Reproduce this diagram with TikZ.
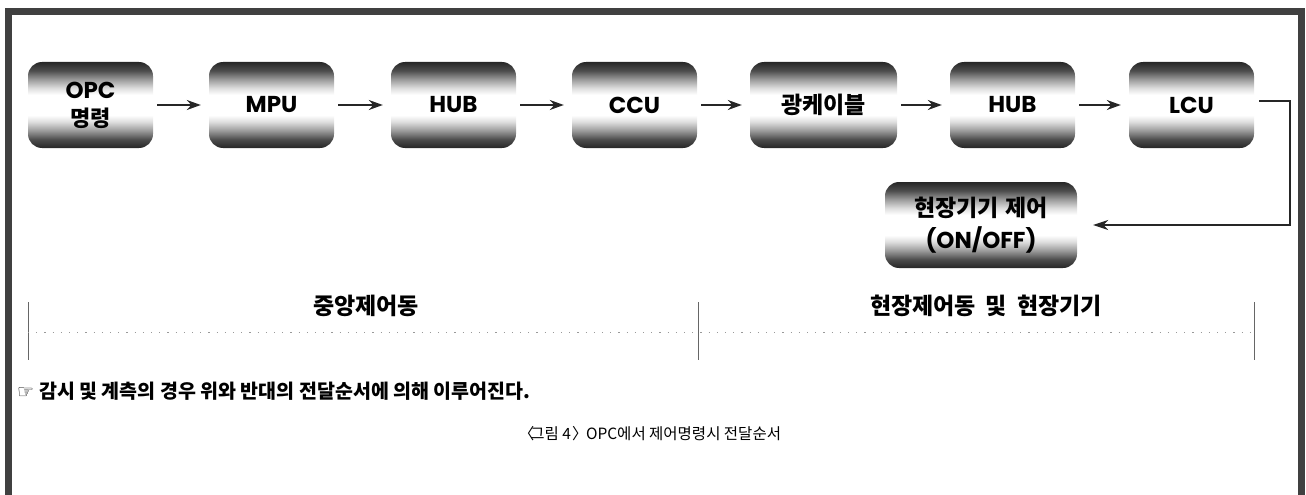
\documentclass[tikz,border=0pt]{standalone}
\usepackage{fontspec}
\newfontfamily\gothic{Poppins}
\newfontfamily\kr{Noto Sans CJK KR}
\newfontfamily\sym{DejaVu Sans}
\usetikzlibrary{arrows.meta}
\pgfdeclareverticalshading{boxshade}{100bp}{color(0bp)=(black!85); color(25bp)=(black!85); color(30bp)=(black!70); color(35bp)=(black!40); color(40bp)=(black!14); color(44bp)=(white); color(56bp)=(white); color(60bp)=(black!14); color(65bp)=(black!40); color(70bp)=(black!70); color(75bp)=(black!85); color(100bp)=(black!85)}
\begin{document}
\begin{tikzpicture}[x=1pt,y=-1pt,
  blk/.style={rounded corners=14pt, minimum height=86pt, minimum width=125pt,
    shade, shading=boxshade, inner sep=0pt, align=center,
    font=\gothic\bfseries\fontsize{23}{23}\selectfont},
  krb/.style={font=\kr\bfseries\fontsize{23}{23}\selectfont},
  arr/.style={line width=1.4pt, black!85, -{Stealth[length=14pt,width=10pt]},
    shorten <=4pt, shorten >=8pt},
  frame/.style={line width=7pt, black!75},
  tick/.style={line width=0.8pt, black!60},
  dots/.style={line width=0.8pt, black!40, dash pattern=on 1.2pt off 7pt}]
\useasboundingbox (0,0) rectangle (1306,495);
% frame
\draw[frame] (8.5,495) -- (8.5,11.5) -- (1301.5,11.5) -- (1301.5,495);
% boxes
\node[blk] (opc) at (90.5,105) {OPC\\[5pt]{\kr\bfseries\fontsize{22}{22}\selectfont 명령}};
\node[blk] (mpu) at (271.5,105) {MPU};
\node[blk] (hub1) at (453.5,105) {HUB};
\node[blk] (ccu) at (634.5,105) {CCU};
\node[blk, minimum width=147pt] (cable) at (823.5,105) {{\kr\bfseries\fontsize{23}{23}\selectfont 광케이블}};
\node[blk] (hub2) at (1012.5,105) {HUB};
\node[blk] (lcu) at (1191.5,105) {LCU};
\node[blk, minimum width=192pt] (field) at (981,225) {{\kr\bfseries\fontsize{23}{23}\selectfont 현장기기\hspace{7pt}제어}\\[7pt](ON/OFF)};
% arrows
\draw[arr] (opc) -- (mpu);
\draw[arr] (mpu) -- (hub1);
\draw[arr] (hub1) -- (ccu);
\draw[arr] (ccu) -- (cable);
\draw[arr] (cable) -- (hub2);
\draw[arr] (hub2) -- (lcu);
\coordinate (turn) at (1290,101);
\draw[line width=1.1pt, black!85, -{Stealth[length=15pt,width=10pt]}, shorten >=16pt]
  ([xshift=5pt,yshift=4pt]lcu.east) -- (turn) |- (field.east);
% section marks
\draw[tick] (28,302) -- (28,360);
\draw[tick] (698,302) -- (698,360);
\draw[tick] (1254,302) -- (1254,360);
\draw[dots] (28,332) -- (1254,332);
\node[krb] (central) at (366,306) {중앙제어동};
\node[krb] (site) at (986,306) {현장제어동\hspace{10pt}및\hspace{10pt}현장기기};
% note and caption
\node[anchor=west, inner sep=0pt, font=\kr\bfseries\fontsize{19.5}{19.5}\selectfont] (note) at (17,391)
  {{\sym\fontsize{19}{19}\selectfont ☞}\hspace{5pt}감시 및 계측의 경우 위와 반대의 전달순서에 의해 이루어진다.};
\node[inner sep=0pt, font=\kr\fontsize{15.5}{16}\selectfont] (cap) at (650,434) {〈\hspace{-4pt}그림 4\hspace{1pt}〉\hspace{-5pt} OPC에서 제어명령시 전달순서};
\end{tikzpicture}
\end{document}
